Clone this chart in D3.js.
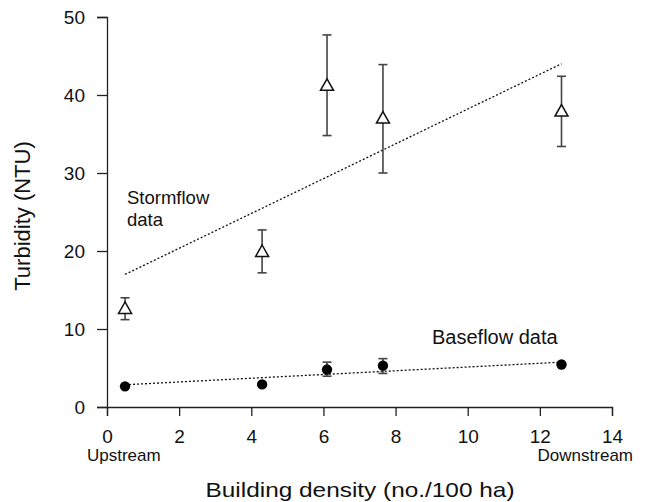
<!DOCTYPE html>
<html>
<head>
<meta charset="utf-8">
<script src="https://cdn.jsdelivr.net/npm/d3@7"></script>
<style>
    html, body { margin: 0; padding: 0; background: #fff; }
    svg { display: block; font-family: "Liberation Sans", Arial, sans-serif; }
    .axis path, .axis line { stroke: #222; stroke-width: 1.3; }
    .axis text { font-size: 19px; fill: #111; font-family: "Liberation Sans", Arial, sans-serif; }
</style>
</head>
<body>
<svg id="chart" width="645" height="502"></svg>
<script>
// site building densities (no./100 ha), upstream -> downstream
const siteDensity = [0.5, 4.3, 6.1, 7.65, 12.6];

// stormflow turbidity (NTU) with error bar limits
const stormMean = [12.7, 20.0, 41.3, 37.1, 38.0];
const stormUpper = [14.0, 22.7, 47.7, 43.9, 42.4];
const stormLower = [11.2, 17.2, 34.8, 30.0, 33.4];

// baseflow turbidity (NTU); error bars only where visible
const baseMean = [2.65, 2.9, 4.8, 5.3, 5.45];
const baseUpper = [null, null, 5.75, 6.2, null];
const baseLower = [null, null, 3.95, 4.3, null];

// fitted trend lines, read at the end points
const trendX = [0.5, 12.6];
const stormTrend = [17.0, 44.0];
const baseTrend = [2.85, 5.75];

const xTicks = [0, 2, 4, 6, 8, 10, 12, 14];
const yTicks = [0, 10, 20, 30, 40, 50];

const svg = d3.select("#chart");

const x = d3.scaleLinear().domain([0, 14]).range([107, 612]);
const y = d3.scaleLinear().domain([0, 50]).range([407, 17]);

svg.append("rect").attr("width", 645).attr("height", 502).attr("fill", "#fff");

// axes
svg.append("g")
    .attr("class", "axis")
    .attr("transform", "translate(0,407)")
    .call(d3.axisBottom(x).tickValues(xTicks).tickSize(9).tickPadding(14).tickFormat(d3.format("d")));

svg.append("g")
    .attr("class", "axis")
    .attr("transform", "translate(107,0)")
    .call(d3.axisLeft(y).tickValues(yTicks).tickSize(10).tickPadding(12).tickFormat(d3.format("d")));

// trend lines
const line = d3.line().x((d) => x(d[0])).y((d) => y(d[1]));

[stormTrend, baseTrend].forEach((vals) => {
    svg.append("path")
        .attr("d", line(trendX.map((t, i) => [t, vals[i]])))
        .attr("fill", "none")
        .attr("stroke", "#111")
        .attr("stroke-width", 1.3)
        .attr("stroke-dasharray", "2,2");
});

function drawErrorBars(lower, upper) {
    const rows = siteDensity
        .map((d, i) => ({ x: d, lo: lower[i], hi: upper[i] }))
        .filter((r) => r.lo != null && r.hi != null);

    const g = svg.append("g")
        .attr("stroke", "#444")
        .attr("stroke-width", 1.6);

    g.selectAll(".stem")
        .data(rows)
        .enter()
        .append("line")
        .attr("x1", (d) => x(d.x))
        .attr("x2", (d) => x(d.x))
        .attr("y1", (d) => y(d.lo))
        .attr("y2", (d) => y(d.hi));

    ["lo", "hi"].forEach((k) => {
        g.selectAll(".cap-" + k)
            .data(rows)
            .enter()
            .append("line")
            .attr("x1", (d) => x(d.x) - 4.5)
            .attr("x2", (d) => x(d.x) + 4.5)
            .attr("y1", (d) => y(d[k]))
            .attr("y2", (d) => y(d[k]));
    });
}

drawErrorBars(stormLower, stormUpper);
drawErrorBars(baseLower, baseUpper);

// stormflow: open triangles
svg.selectAll(".storm")
    .data(siteDensity.map((d, i) => [d, stormMean[i]]))
    .enter()
    .append("path")
    .attr("class", "storm")
    .attr("transform", (d) => `translate(${x(d[0])},${y(d[1])})`)
    .attr("d", "M0,-6 L6.5,5.5 L-6.5,5.5 Z")
    .attr("fill", "#fff")
    .attr("stroke", "#111")
    .attr("stroke-width", 1.5);

// baseflow: filled circles
svg.selectAll(".base")
    .data(siteDensity.map((d, i) => [d, baseMean[i]]))
    .enter()
    .append("circle")
    .attr("class", "base")
    .attr("cx", (d) => x(d[0]))
    .attr("cy", (d) => y(d[1]))
    .attr("r", 5.2)
    .attr("fill", "#000");

// annotations
svg.append("text")
    .attr("x", 127)
    .attr("y", 204)
    .attr("font-size", 18.5)
    .attr("fill", "#111")
    .text("Stormflow");

svg.append("text")
    .attr("x", 127)
    .attr("y", 225.5)
    .attr("font-size", 18.5)
    .attr("fill", "#111")
    .text("data");

svg.append("text")
    .attr("x", 432)
    .attr("y", 343.5)
    .attr("font-size", 20)
    .attr("fill", "#111")
    .text("Baseflow data");

svg.append("text")
    .attr("x", 87)
    .attr("y", 460.5)
    .attr("font-size", 17)
    .attr("fill", "#111")
    .text("Upstream");

svg.append("text")
    .attr("x", 633)
    .attr("y", 460.5)
    .attr("text-anchor", "end")
    .attr("font-size", 17)
    .attr("fill", "#111")
    .text("Downstream");

// axis titles
svg.append("text")
    .attr("x", 360)
    .attr("y", 497)
    .attr("text-anchor", "middle")
    .attr("font-size", 21)
    .attr("textLength", 309)
    .attr("lengthAdjust", "spacingAndGlyphs")
    .attr("fill", "#111")
    .text("Building density (no./100 ha)");

svg.append("text")
    .attr("transform", "translate(30,216) rotate(-90)")
    .attr("text-anchor", "middle")
    .attr("font-size", 22)
    .attr("fill", "#111")
    .text("Turbidity (NTU)");
</script>
</body>
</html>
